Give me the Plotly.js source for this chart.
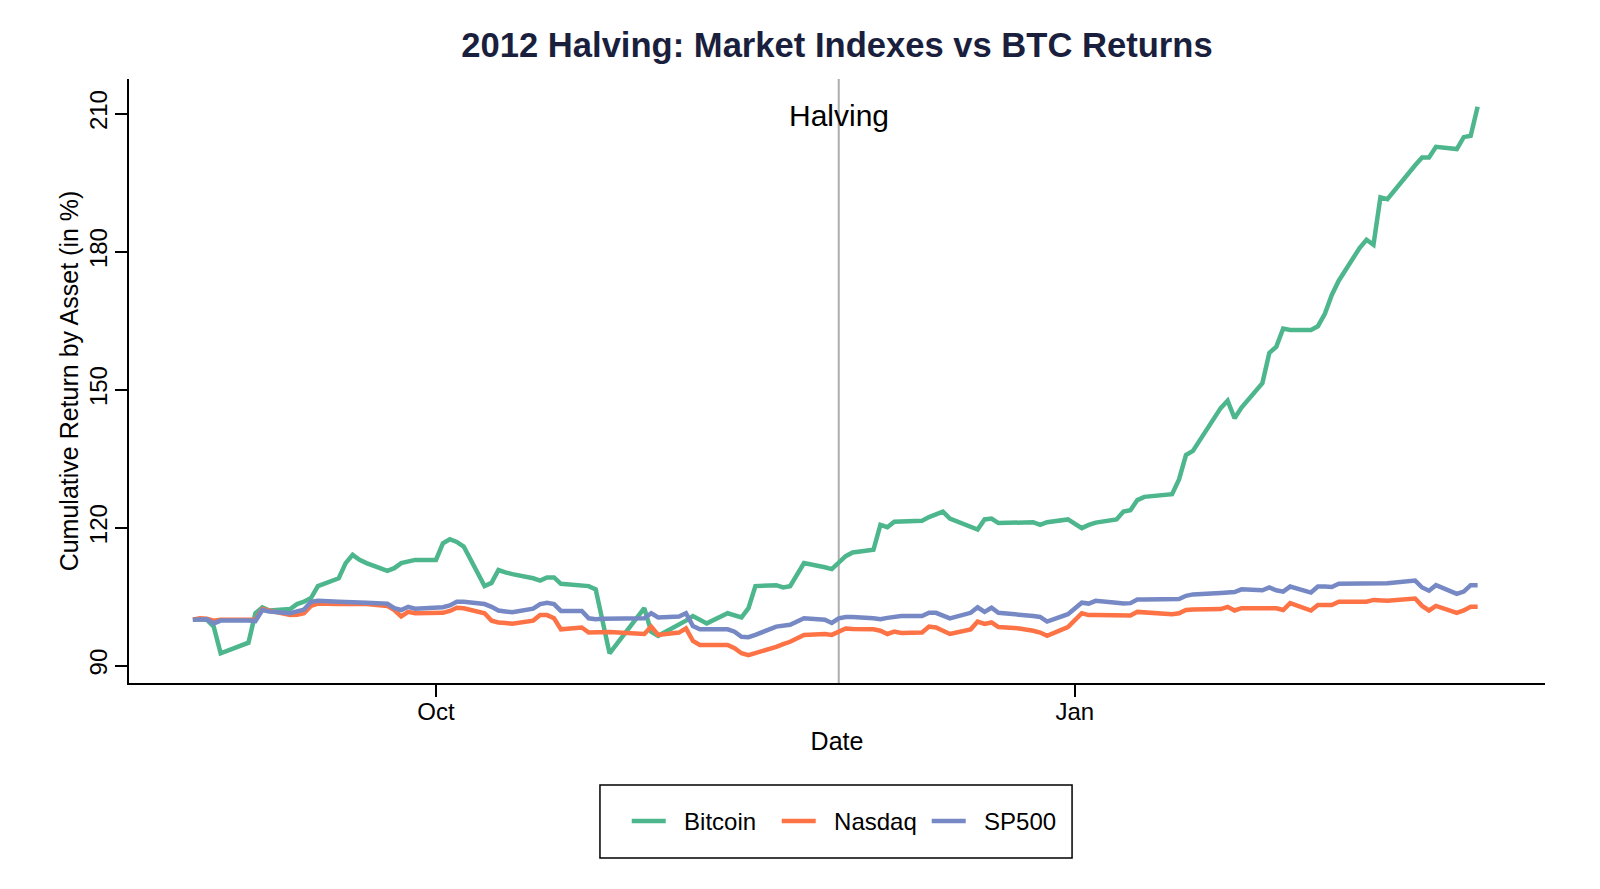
<!DOCTYPE html>
<html>
<head>
<meta charset="utf-8">
<script src="https://cdn.plot.ly/plotly-3.0.1.min.js"></script>
<style>
  html, body { margin: 0; padding: 0; background: #fff; }
  #chart { width: 1600px; height: 889px; }
</style>
</head>
<body>
<div id="chart"></div>
<script>
// trading days, Aug 27 2012 - Feb 28 2013
var dates = [
    "2012-08-27", "2012-08-28", "2012-08-29", "2012-08-30", "2012-08-31",
    "2012-09-04", "2012-09-05", "2012-09-06", "2012-09-07", "2012-09-10", "2012-09-11", "2012-09-12",
    "2012-09-13", "2012-09-14", "2012-09-17", "2012-09-18", "2012-09-19", "2012-09-20", "2012-09-21",
    "2012-09-24", "2012-09-25", "2012-09-26", "2012-09-27", "2012-09-28",
    "2012-10-01", "2012-10-02", "2012-10-03", "2012-10-04", "2012-10-05", "2012-10-08", "2012-10-09",
    "2012-10-10", "2012-10-11", "2012-10-12", "2012-10-15", "2012-10-16", "2012-10-17", "2012-10-18",
    "2012-10-19", "2012-10-22", "2012-10-23", "2012-10-24", "2012-10-25", "2012-10-26", "2012-10-31",
    "2012-11-01", "2012-11-02", "2012-11-05", "2012-11-06", "2012-11-07", "2012-11-08", "2012-11-09",
    "2012-11-12", "2012-11-13", "2012-11-14", "2012-11-15", "2012-11-16", "2012-11-19", "2012-11-20",
    "2012-11-21", "2012-11-23", "2012-11-26", "2012-11-27", "2012-11-28", "2012-11-29", "2012-11-30",
    "2012-12-03", "2012-12-04", "2012-12-05", "2012-12-06", "2012-12-07", "2012-12-10", "2012-12-11",
    "2012-12-12", "2012-12-13", "2012-12-14", "2012-12-17", "2012-12-18", "2012-12-19", "2012-12-20",
    "2012-12-21", "2012-12-24", "2012-12-26", "2012-12-27", "2012-12-28", "2012-12-31",
    "2013-01-02", "2013-01-03", "2013-01-04", "2013-01-07", "2013-01-08", "2013-01-09", "2013-01-10",
    "2013-01-11", "2013-01-14", "2013-01-15", "2013-01-16", "2013-01-17", "2013-01-18", "2013-01-22",
    "2013-01-23", "2013-01-24", "2013-01-25", "2013-01-28", "2013-01-29", "2013-01-30", "2013-01-31",
    "2013-02-01", "2013-02-04", "2013-02-05", "2013-02-06", "2013-02-07", "2013-02-08", "2013-02-11",
    "2013-02-12", "2013-02-13", "2013-02-14", "2013-02-15", "2013-02-19", "2013-02-20", "2013-02-21",
    "2013-02-22", "2013-02-25", "2013-02-26", "2013-02-27", "2013-02-28"
];

var bitcoin = [
    100.1, 100.1, 100.0, 98.5, 92.7,
    95.0, 101.4, 102.7, 102.0, 102.3, 103.4, 103.9, 104.7, 107.3, 109.0, 112.3, 114.1, 113.0, 112.3,
    110.6, 111.2, 112.3, 112.6, 113.0,
    113.0, 116.6, 117.5, 116.9, 115.9, 107.3, 108.0, 110.8, 110.3, 109.9, 109.0, 108.5, 109.2, 109.2,
    107.8, 107.5, 107.3, 106.6, 99.6, 92.7, 102.5,
    97.4, 96.5, 98.9, 99.8, 100.8, 100.1, 99.2, 101.4, 101.0, 100.5, 102.5, 107.3, 107.5, 107.0,
    107.3, 112.3, 111.4, 111.0, 112.4, 113.8, 114.6,
    115.2, 120.6, 120.1, 121.3, 121.4, 121.5, 122.3, 122.8, 123.5, 122.0, 120.2, 119.6, 121.8, 122.0,
    121.0, 121.0, 121.2, 120.6, 121.2, 121.8,
    119.9, 120.6, 121.1, 121.8, 123.5, 123.8, 126.0, 126.7, 127.1, 127.3, 130.5, 135.8, 136.7, 146.0,
    147.6, 143.8, 146.1, 151.4, 158.0, 159.3, 163.3,
    163.0, 163.0, 163.8, 166.5, 170.6, 173.7, 180.8, 182.6, 181.5, 191.8, 191.4, 198.8, 200.5, 200.5,
    202.8, 202.3, 204.9, 205.2, 211.5
];

var nasdaq = [
    100.0, 100.3, 100.2, 99.8, 100.0,
    100.1, 100.0, 102.3, 102.0, 101.0, 101.1, 101.4, 103.0, 103.5, 103.4, 103.4, 103.5, 103.4, 103.4,
    103.0, 102.1, 100.7, 101.7, 101.4,
    101.5, 101.5, 101.9, 102.6, 102.5, 101.4, 99.8, 99.4, 99.3, 99.1, 99.8, 101.0, 101.0, 100.3,
    97.9, 98.3, 97.2, 97.3, 97.4, 97.3, 96.9,
    98.5, 96.7, 97.2, 98.1, 95.4, 94.5, 94.5, 94.5, 93.8, 92.7, 92.3, 92.7, 94.1, 94.7,
    95.2, 96.7, 96.9, 96.7, 97.4, 98.1, 98.0,
    97.9, 97.6, 96.9, 97.4, 97.1, 97.2, 98.5, 98.3, 97.6, 96.9, 97.9, 99.6, 99.1, 99.4,
    98.4, 98.1, 97.6, 97.2, 96.5, 98.4,
    101.4, 101.0, 101.0, 101.0, 100.8, 100.9, 101.7, 101.6, 101.5, 101.2, 101.4, 102.1, 102.2, 102.3,
    102.8, 102.0, 102.5, 102.6, 102.7, 102.5, 102.1,
    103.6, 102.0, 103.2, 103.2, 103.2, 103.9, 103.9, 103.9, 104.3, 104.1, 104.1, 104.6, 103.0, 102.0,
    103.0, 101.5, 102.0, 102.8, 102.8
];

var sp500 = [
    100.0, 100.0, 100.1, 99.2, 99.8,
    99.8, 99.7, 102.1, 101.8, 101.4, 101.7, 102.2, 103.9, 104.1, 103.9, 103.8, 103.8, 103.7, 103.7,
    103.5, 102.5, 102.1, 102.8, 102.4,
    102.6, 102.7, 103.1, 103.9, 103.9, 103.4, 102.8, 102.0, 101.8, 101.6, 102.4, 103.4, 103.7, 103.4,
    101.9, 101.9, 100.3, 100.1, 100.2, 100.2, 100.3,
    101.4, 100.5, 100.7, 101.4, 98.6, 97.9, 97.9, 97.9, 97.4, 96.3, 96.2, 96.7, 98.5, 98.6,
    98.9, 100.3, 100.0, 99.3, 100.3, 100.6, 100.6,
    100.3, 100.1, 100.4, 100.6, 100.8, 100.8, 101.5, 101.5, 101.0, 100.3, 101.5, 102.7, 101.7, 102.6,
    101.5, 101.2, 100.8, 100.6, 99.6, 101.2,
    103.7, 103.5, 104.1, 103.7, 103.5, 103.6, 104.4, 104.4, 104.4, 104.4, 104.5, 105.2, 105.5, 105.8,
    105.9, 106.0, 106.6, 106.4, 107.0, 106.4, 106.1,
    107.2, 105.9, 107.2, 107.2, 107.1, 107.8, 107.8, 107.9, 107.9, 107.9, 107.9, 108.5, 107.0, 106.3,
    107.5, 105.6, 106.1, 107.5, 107.5
];

var halvingDate = "2012-11-28";
var xTickVals = ["2012-10-01", "2013-01-01"];
var xTickText = ["Oct", "Jan"];
var yTickVals = [90, 120, 150, 180, 210];

var font = "Liberation Sans, Arial, Helvetica, sans-serif";
var nb = "\u00a0\u00a0";

function line(name, y, color) {
    return {
        x: dates,
        y: y,
        name: nb + name,
        type: 'scatter',
        mode: 'lines',
        line: { color: color, width: 4.5 }
    };
}

var data = [
    line('Bitcoin', bitcoin, '#4db68d'),
    line('Nasdaq', nasdaq, '#fd7346'),
    line('SP500', sp500, '#7789c4')
];

var axisCommon = {
    showgrid: false,
    zeroline: false,
    showline: true,
    linecolor: '#000',
    linewidth: 2,
    ticks: 'outside',
    ticklen: 12,
    tickwidth: 2,
    tickcolor: '#000',
    tickfont: { family: font, size: 24, color: '#000' }
};

var layout = {
    width: 1600,
    height: 889,
    margin: { l: 129, r: 55, t: 79, b: 206 },
    paper_bgcolor: '#fff',
    plot_bgcolor: '#fff',
    font: { family: font, size: 24, color: '#000' },
    title: {
        text: '<b>2012 Halving: Market Indexes vs BTC Returns</b>',
        font: { family: font, size: 34.6, color: '#1a1f3d' },
        x: 0.5,
        xref: 'paper',
        xanchor: 'center',
        y: 1 - 45 / 889,
        yref: 'container',
        yanchor: 'middle'
    },
    xaxis: Object.assign({}, axisCommon, {
        type: 'date',
        range: ['2012-08-17 19:12', '2013-03-09 16:48'],
        tickvals: xTickVals,
        ticktext: xTickText,
        ticklabelstandoff: -6,
        title: { text: 'Date', standoff: 9, font: { family: font, size: 25, color: '#000' } }
    }),
    yaxis: Object.assign({}, axisCommon, {
        range: [86.24, 217.54],
        tickvals: yTickVals,
        tickangle: -90,
        ticklabelstandoff: -2,
        title: { text: 'Cumulative Return by Asset (in %)', standoff: 0, font: { family: font, size: 25, color: '#000' } }
    }),
    shapes: [
        {
            type: 'line', xref: 'x', yref: 'paper',
            x0: halvingDate, x1: halvingDate, y0: 0, y1: 1,
            line: { color: '#adadad', width: 2 },
            layer: 'below'
        },
        {
            // legend frame
            type: 'rect', xref: 'paper', yref: 'paper',
            x0: 0.3326, x1: 0.666, y0: -0.1689, y1: -0.2897,
            line: { color: '#000', width: 1.5 },
            fillcolor: 'rgba(0,0,0,0)'
        }
    ],
    annotations: [
        {
            text: 'Halving',
            x: halvingDate, xref: 'x',
            y: 0.94, yref: 'paper',
            xanchor: 'center', yanchor: 'middle',
            showarrow: false,
            font: { family: font, size: 30, color: '#000' }
        }
    ],
    showlegend: true,
    legend: {
        orientation: 'h',
        x: 0.3515, xanchor: 'left',
        y: -0.229, yanchor: 'middle',
        bgcolor: 'rgba(0,0,0,0)',
        borderwidth: 0,
        itemwidth: 34,
        entrywidth: 101,
        font: { family: font, size: 24, color: '#000' }
    }
};

Plotly.newPlot('chart', data, layout, { displayModeBar: false, staticPlot: true });
</script>
</body>
</html>
